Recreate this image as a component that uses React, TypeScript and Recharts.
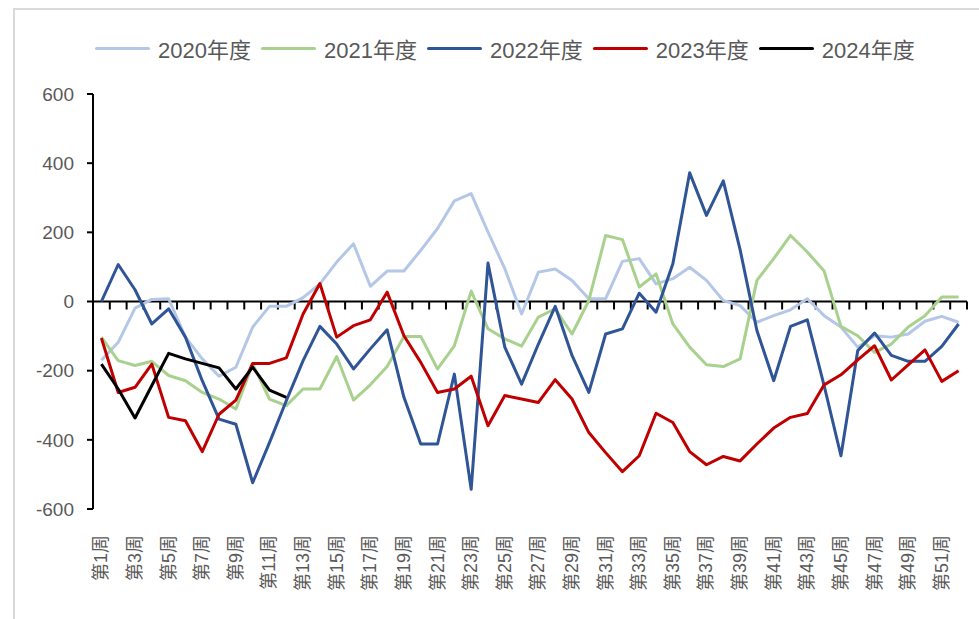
import { LineChart, Line, XAxis, YAxis, ReferenceLine } from "recharts";

const weeks = Array.from({ length: 52 }, (_, i) => `第${i + 1}周`);

const yTicks = [-600, -400, -200, 0, 200, 400, 600];

const s2020 = [
  -170, -118, -19, 6, 8, -103, -166, -216, -190, -74,
  -14, -14, 11, 51, 114, 167, 44, 88, 88, 148,
  211, 291, 312, 201, 95, -36, 85, 94, 61, 8,
  8, 116, 124, 51, 66, 99, 61, 3, -12, -60,
  -41, -24, 8, -41, -74, -132, -99, -103, -94, -57,
  -43, -60,
];

const s2021 = [
  -103, -171, -185, -173, -214, -229, -263, -282, -311, -181,
  -282, -301, -253, -253, -159, -285, -241, -188, -101, -101,
  -195, -128, 30, -79, -108, -129, -45, -21, -94, 3,
  191, 179, 42, 80, -65, -132, -183, -188, -166, 61,
  124, 191, 143, 88, -72, -99, -147, -123, -74, -41,
  13, 13,
];

const s2022 = [
  0, 107, 34, -65, -21, -103, -229, -340, -355, -524,
  -408, -287, -171, -72, -123, -195, -137, -82, -277, -412,
  -412, -210, -543, 111, -132, -239, -123, -14, -156, -263,
  -94, -79, 24, -31, 109, 372, 249, 349, 150, -84,
  -229, -72, -53, -243, -446, -142, -91, -156, -173, -173,
  -130, -65,
];

const s2023 = [
  -106, -263, -248, -181, -335, -345, -434, -326, -285, -179,
  -179, -163, -36, 52, -103, -70, -53, 27, -99, -176,
  -263, -253, -216, -359, -272, -282, -292, -226, -282, -379,
  -437, -492, -446, -323, -350, -434, -472, -448, -461, -412,
  -366, -335, -324, -241, -212, -169, -128, -227, -183, -140,
  -231, -200,
];

const s2024 = [-181, -253, -337, -243, -150, -166, -179, -192, -253, -190, -256, -277];

const series = [
  { key: "y2020", name: "2020年度", color: "#b4c7e7", values: s2020 },
  { key: "y2021", name: "2021年度", color: "#a9d18e", values: s2021 },
  { key: "y2022", name: "2022年度", color: "#2f5597", values: s2022 },
  { key: "y2023", name: "2023年度", color: "#c00000", values: s2023 },
  { key: "y2024", name: "2024年度", color: "#000000", values: s2024 },
];

const FONT = "'Liberation Sans', 'Noto Sans CJK SC', sans-serif";

const chartData = weeks.map((week, i) => {
  const row: Record<string, string | number | null> = { week };
  series.forEach((s) => {
    row[s.key] = i < s.values.length ? s.values[i] : null;
  });
  return row;
});

function WeekTick({ x, y, payload }: any) {
  const ty = y + 18;
  return (
    <text
      x={x}
      y={ty}
      transform={`rotate(-90 ${x} ${ty})`}
      textAnchor="end"
      dominantBaseline="central"
      fontSize={18}
      fontFamily={FONT}
      fill="#595959"
    >
      {payload.value}
    </text>
  );
}

// zero line drawn like Excel's category axis crossing at 0, with tick marks between weeks
function ZeroAxis(props: any) {
  const { x1, y1, x2 } = props;
  const step = (x2 - x1) / weeks.length;
  return (
    <g>
      <line x1={x1} y1={y1} x2={x2} y2={y1} stroke="#000" strokeWidth={2} />
      {weeks.map((_, i) => {
        const tx = x1 + step * (i + 1);
        return <line key={i} x1={tx} y1={y1} x2={tx} y2={y1 + 8} stroke="#000" strokeWidth={2} />;
      })}
    </g>
  );
}

export default function App() {
  return (
    <div
      style={{
        position: "absolute",
        left: 0,
        top: 0,
        width: 979,
        height: 619,
        overflow: "hidden",
        background: "#fff",
        fontFamily: FONT,
      }}
    >
      <div
        style={{
          position: "absolute",
          left: 13,
          top: 8,
          width: 990,
          height: 640,
          border: "2px solid #d9d9d9",
        }}
      />

      <div
        style={{
          position: "absolute",
          left: 95,
          top: 33,
          height: 30,
          display: "flex",
          alignItems: "center",
          fontSize: 22,
          color: "#595959",
          whiteSpace: "nowrap",
        }}
      >
        {series.map((s) => (
          <div key={s.key} style={{ display: "flex", alignItems: "center", marginRight: 10 }}>
            <div style={{ width: 55, height: 3, borderRadius: 2, background: s.color, marginRight: 8 }} />
            <span>{s.name}</span>
          </div>
        ))}
      </div>

      <div style={{ position: "absolute", left: 0, top: 0 }}>
        <LineChart
          width={979}
          height={619}
          data={chartData}
          margin={{ top: 94, right: 12, left: 0, bottom: 0 }}
        >
          <XAxis
            dataKey="week"
            scale="band"
            interval={1}
            height={110}
            axisLine={false}
            tickLine={false}
            tick={<WeekTick />}
          />
          <YAxis
            type="number"
            domain={[-600, 600]}
            ticks={yTicks}
            width={93}
            axisLine={{ stroke: "#000", strokeWidth: 2 }}
            tickLine={{ stroke: "#000", strokeWidth: 2 }}
            tickSize={6}
            tickMargin={13}
            tick={{ fontSize: 19, fill: "#595959", fontFamily: FONT }}
          />
          <ReferenceLine y={0} shape={<ZeroAxis />} />
          {series.map((s) => (
            <Line
              key={s.key}
              dataKey={s.key}
              name={s.name}
              type="linear"
              stroke={s.color}
              strokeWidth={3}
              strokeLinejoin="round"
              dot={false}
              activeDot={false}
              connectNulls={false}
              isAnimationActive={false}
            />
          ))}
        </LineChart>
      </div>
    </div>
  );
}
